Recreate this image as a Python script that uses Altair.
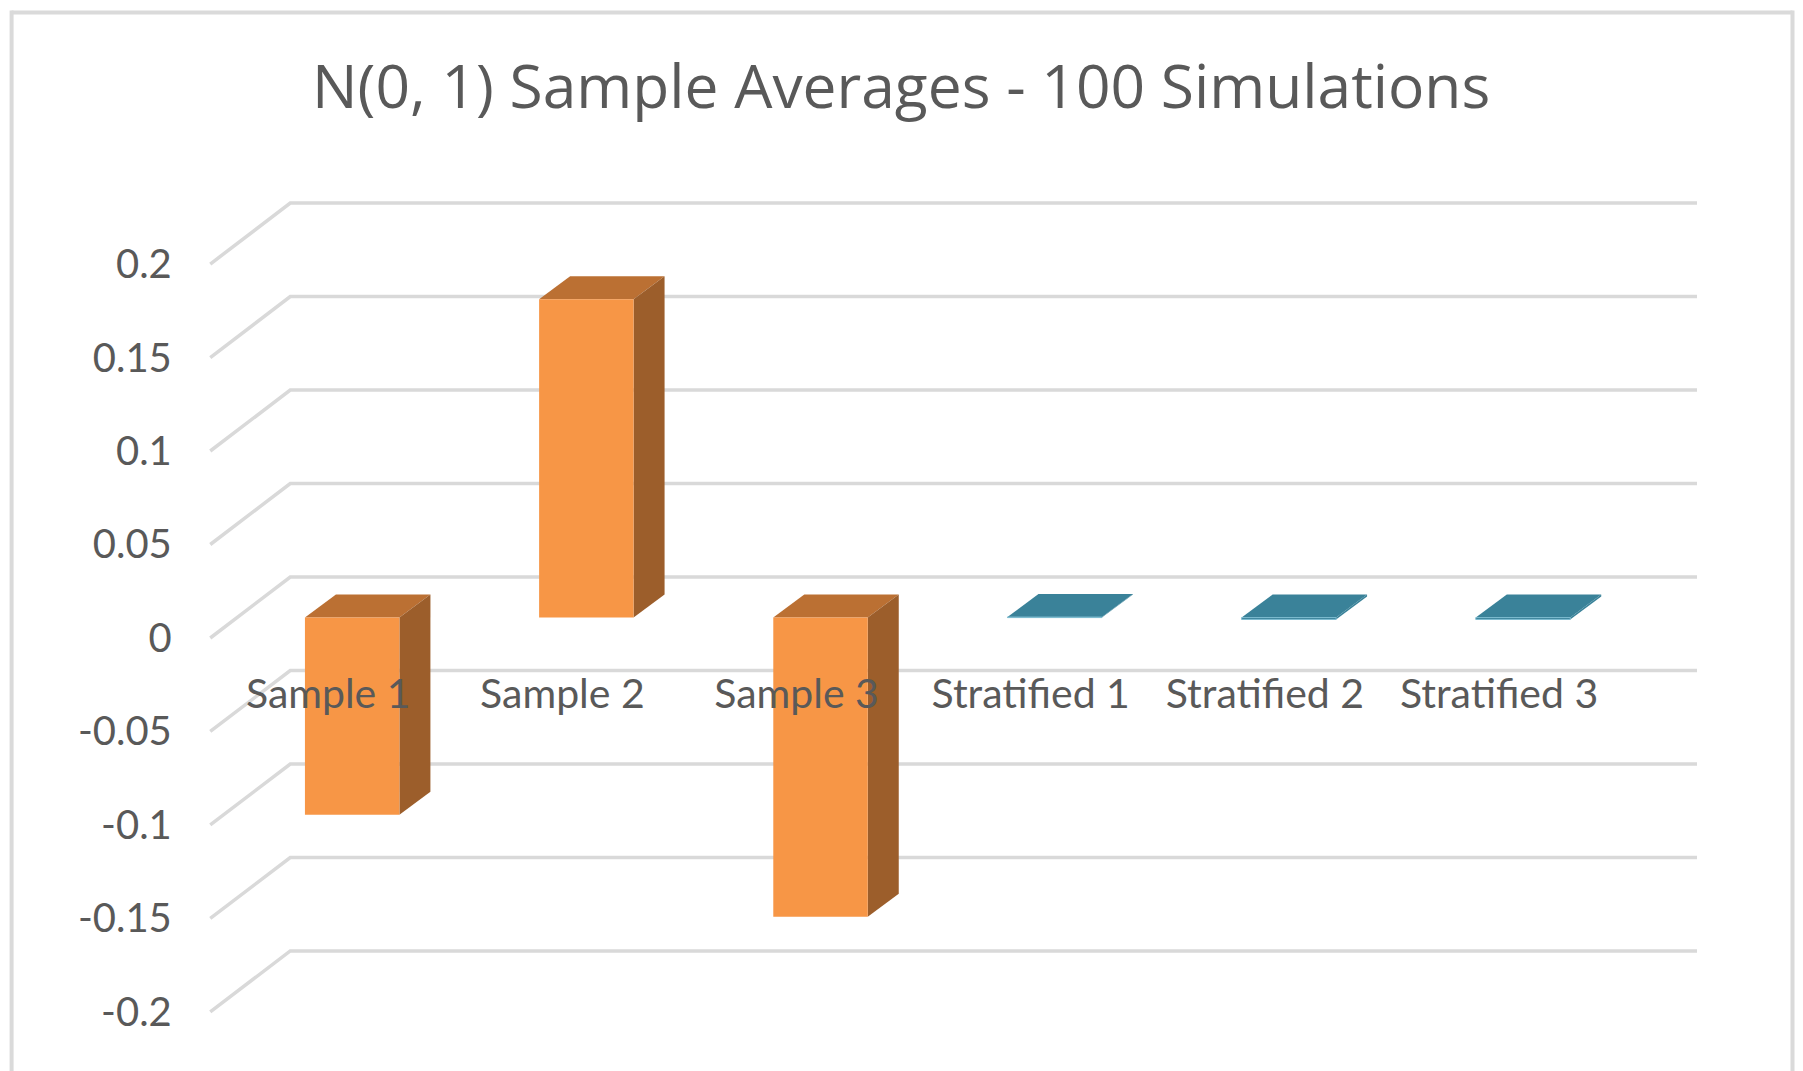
import altair as alt
import pandas as pd

categories = ["Sample 1", "Sample 2", "Sample 3", "Stratified 1", "Stratified 2", "Stratified 3"]
values = [-0.1055, 0.1703, -0.16, 0.0003, -0.001, -0.001]
series = ["Sample", "Sample", "Sample", "Stratified", "Stratified", "Stratified"]
y_ticks = [-0.2, -0.15, -0.1, -0.05, 0, 0.05, 0.1, 0.15, 0.2]

# Faces per series: front, top, side, front edge
faces = {
    "Sample": ("#F79646", "#BB7033", "#9C5E2B", "transparent"),
    "Stratified": ("#3A8299", "#3A8299", "#3A8299", "#7CBCD0"),
}

FONT = "Lato"
TEXT = "#595959"
GRID = "#D9D9D9"
BORDER = "#DADADA"

W, H = 1487, 748
# oblique projection, in data units of the two scales
X_MIN, X_MAX = -0.508, 5.841
DEPTH_X, DEPTH_Y = 0.3416, 0.0326      # wall: front edge to back edge
BAR_X, BAR_Y = 0.098, 0.0109           # bar front face, in from the front edge
BAR_DX, BAR_DY = 0.1324, 0.0123        # bar depth
BAR_HALF = 0.2017

x_scale = alt.Scale(domain=[X_MIN, X_MAX], nice=False, zero=False)
y_scale = alt.Scale(domain=[-0.2, 0.2], nice=False, zero=False)
label_expr = "[" + ",".join(f"'{c}'" for c in categories) + "][datum.value]"

grid_rows = []
for v in y_ticks:
    grid_rows += [
        {"v": v, "k": 0, "x": X_MIN, "y": v},
        {"v": v, "k": 1, "x": X_MIN + DEPTH_X, "y": v + DEPTH_Y},
        {"v": v, "k": 2, "x": X_MAX, "y": v + DEPTH_Y},
    ]
grid_df = pd.DataFrame(grid_rows)

front_rows, top_rows, side_rows = [], [], []
for i, (val, s) in enumerate(zip(values, series)):
    f, t, d, e = faces[s]
    left = i + BAR_X - BAR_HALF
    right = i + BAR_X + BAR_HALF
    hi = max(val, 0) + BAR_Y
    lo = min(val, 0) + BAR_Y
    front_rows.append({"x": left, "x2": right, "y": lo, "y2": hi, "fill": f, "edge": e})
    top_rows += [
        {"i": i, "x": left, "x2": right, "y": hi, "fill": t},
        {"i": i, "x": left + BAR_DX, "x2": right + BAR_DX, "y": hi + BAR_DY, "fill": t},
    ]
    side_rows += [
        {"i": i, "x": right, "y": lo, "y2": hi, "fill": d},
        {"i": i, "x": right + BAR_DX, "y": lo + BAR_DY, "y2": hi + BAR_DY, "fill": d},
    ]

grid = alt.Chart(grid_df).mark_line(color=GRID, strokeWidth=3.5).encode(
    x=alt.X("x:Q", scale=x_scale, title=None, axis=alt.Axis(
        values=list(range(len(categories))), labelExpr=label_expr, orient="bottom",
        offset=-316.5, domain=False, ticks=False, grid=False, labelPadding=0,
        labelBaseline="middle", labelFont=FONT, labelFontSize=41, labelColor=TEXT,
        labelLimit=400, labelOverlap=False, labelFlush=False, labelOffset=-1.5, zindex=1)),
    y=alt.Y("y:Q", scale=y_scale, title=None, axis=alt.Axis(
        values=y_ticks, labelExpr="'' + datum.value", domain=False, ticks=False, grid=False,
        labelPadding=39, labelFont=FONT, labelFontSize=40, labelColor=TEXT,
        labelOverlap=False, labelFlush=False, labelOffset=1.5)),
    detail="v:N",
    order="k:O",
)

top = alt.Chart(pd.DataFrame(top_rows)).mark_area(orient="horizontal").encode(
    x=alt.X("x:Q", stack=None, scale=x_scale), x2="x2:Q",
    y=alt.Y("y:Q", stack=None, scale=y_scale),
    fill=alt.Fill("fill:N", scale=None), detail="i:N",
)
side = alt.Chart(pd.DataFrame(side_rows)).mark_area(orient="vertical").encode(
    x=alt.X("x:Q", stack=None, scale=x_scale),
    y=alt.Y("y:Q", stack=None, scale=y_scale), y2="y2:Q",
    fill=alt.Fill("fill:N", scale=None), detail="i:N",
)
front = alt.Chart(pd.DataFrame(front_rows)).mark_rect(strokeWidth=1).encode(
    x=alt.X("x:Q", scale=x_scale), x2="x2:Q",
    y=alt.Y("y:Q", scale=y_scale), y2="y2:Q",
    fill=alt.Fill("fill:N", scale=None),
    stroke=alt.Stroke("edge:N", scale=None),
)

dummy = alt.Data(values=[{"a": 1}])
b_left = alt.Chart(dummy).mark_rule(color=BORDER, strokeWidth=4).encode(
    x=alt.value(-198.7), y=alt.value(-253.5), y2=alt.value(809.5))
b_right = alt.Chart(dummy).mark_rule(color=BORDER, strokeWidth=4).encode(
    x=alt.value(1582.5), y=alt.value(-253.5), y2=alt.value(809.5))
b_top = alt.Chart(dummy).mark_rule(color=BORDER, strokeWidth=4).encode(
    x=alt.value(-198.7), x2=alt.value(1582.5), y=alt.value(-251.5))

chart = alt.layer(b_left, b_right, b_top, grid, top, side, front).properties(
    width=W, height=H,
    padding={"left": 1.3, "top": 0, "right": 0, "bottom": 0},
    background="white",
    title=alt.TitleParams(
        text="N(0, 1) Sample Averages - 100 Simulations", anchor="middle", dx=-52.5,
        offset=-111.5, font="Open Sans", fontSize=60.5, fontWeight="normal", color=TEXT),
).configure_view(stroke=None)

chart.save("out.html", embed_options={"renderer": "svg", "actions": False})
